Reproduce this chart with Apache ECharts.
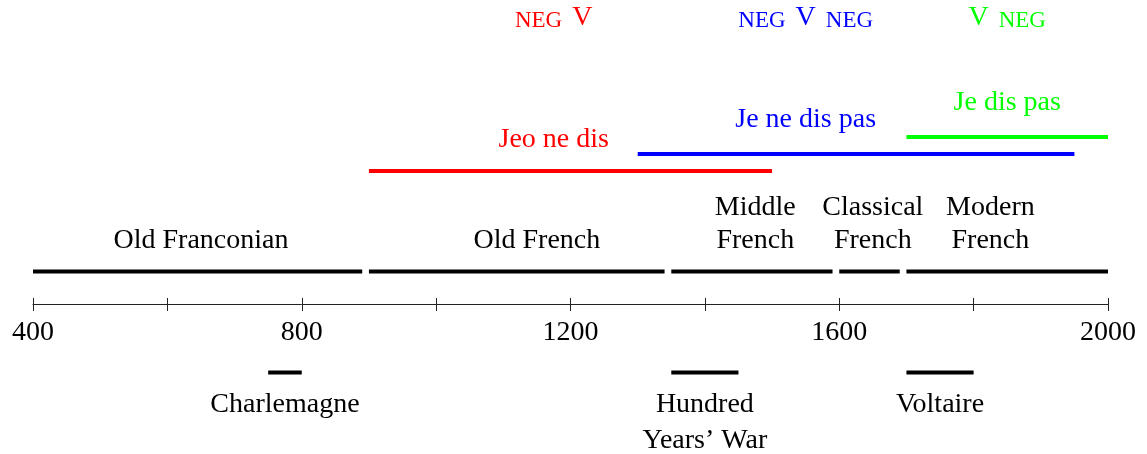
<!DOCTYPE html>
<html>
<head>
<meta charset="utf-8">
<script src="https://cdn.jsdelivr.net/npm/echarts@6/dist/echarts.min.js"></script>
<style>
html,body{margin:0;padding:0;background:#fff;}
#chart{width:1147px;height:454px;}
</style>
</head>
<body>
<div id="chart"></div>
<script>
// ---------- data ----------
const axisMin = 400;
const axisMax = 2000;
const tickStep = 200;
const labelStep = 400;

const periodNames = ['Old Franconian', 'Old French', 'Middle\nFrench', 'Classical\nFrench', 'Modern\nFrench'];
const periodStart = [400, 900, 1350, 1600, 1700];
const periodEnd = [890, 1340, 1590, 1690, 2000];
const periodLabelYear = [650, 1150, 1475, 1650, 1825];

const phraseText = ['Jeo ne dis', 'Je ne dis pas', 'Je dis pas'];
const phraseStart = [900, 1300, 1700];
const phraseEnd = [1500, 1950, 2000];
const phraseLabelYear = [1175, 1550, 1850];
const phrasePattern = [['NEG', 'V'], ['NEG', 'V', 'NEG'], ['V', 'NEG']];

const eventNames = ['Charlemagne', 'Hundred\nYears\u2019 War', 'Voltaire'];
const eventStart = [750, 1350, 1700];
const eventEnd = [800, 1450, 1800];

// ---------- layout / style (heights in px above the time axis) ----------
const FONT = '"Liberation Serif", "Times New Roman", Times, serif';
const phraseColors = ['#ff0000', '#0000ff', '#00ff00'];
const LV = {
  periodBar: 32.5,
  periodLabelBottom: 47,
  phraseLine: [133, 150, 167],
  phraseLabel: [164.5, 184, 201],
  patternLabel: 286,
  eventBar: -68.5,
  eventLabelTop: -83
};

const chart = echarts.init(document.getElementById('chart'), null, {renderer: 'canvas'});

function seg(api, a, b, lvl, color, w) {
  const s = api.coord([a, lvl]);
  const e = api.coord([b, lvl]);
  return {type: 'line', shape: {x1: s[0], y1: s[1], x2: e[0], y2: e[1]},
          style: {stroke: color, lineWidth: w, lineCap: 'butt'}};
}

const option = {
  animation: false,
  backgroundColor: '#ffffff',
  grid: {left: 33, right: 39, top: 0, bottom: 150, containLabel: false, outerBoundsMode: 'none'},
  xAxis: [{
    type: 'value', min: axisMin, max: axisMax, interval: tickStep, position: 'bottom',
    axisLine: {show: true, onZero: false, lineStyle: {color: '#222', width: 1}},
    axisTick: {show: true, inside: false, length: 7, lineStyle: {color: '#222', width: 1}},
    axisLabel: {show: true, margin: 15, color: '#000', fontSize: 28, fontFamily: FONT,
      showMinLabel: true, showMaxLabel: true, hideOverlap: false,
      formatter: v => ((v - axisMin) % labelStep === 0 ? String(v) : '')},
    splitLine: {show: false}
  }, {
    type: 'value', min: axisMin, max: axisMax, interval: tickStep, position: 'bottom', offset: 0,
    axisLine: {show: false, onZero: false},
    axisTick: {show: true, inside: true, length: 6, lineStyle: {color: '#222', width: 1}},
    axisLabel: {show: false},
    splitLine: {show: false}
  }],
  yAxis: {type: 'value', min: 0, max: 304, show: false, splitLine: {show: false}},
  series: [{
    type: 'custom', name: 'periods', clip: false,
    data: periodStart.map((s, i) => [s, periodEnd[i]]),
    encode: {x: [0, 1]},
    renderItem(params, api) {
      const i = params.dataIndex;
      const t = api.coord([periodLabelYear[i], LV.periodLabelBottom]);
      return {type: 'group', children: [
        seg(api, api.value(0), api.value(1), LV.periodBar, '#000', 4),
        {type: 'text', x: t[0], y: t[1], style: {text: periodNames[i], fill: '#000',
          fontSize: 28, fontFamily: FONT, lineHeight: 33, align: 'center', verticalAlign: 'bottom'}}
      ]};
    }
  }, {
    type: 'custom', name: 'phrases', clip: false,
    data: phraseStart.map((s, i) => [s, phraseEnd[i]]),
    encode: {x: [0, 1]},
    renderItem(params, api) {
      const i = params.dataIndex;
      const c = phraseColors[i];
      const t = api.coord([phraseLabelYear[i], LV.phraseLabel[i]]);
      const p = api.coord([phraseLabelYear[i], LV.patternLabel]);
      const rich = phrasePattern[i].map(w => (w === 'NEG' ? '{n|NEG}' : '{v|V}')).join('{sp| }');
      return {type: 'group', children: [
        seg(api, api.value(0), api.value(1), LV.phraseLine[i], c, 4),
        {type: 'text', x: t[0], y: t[1], style: {text: phraseText[i], fill: c,
          fontSize: 28, fontFamily: FONT, align: 'center', verticalAlign: 'middle'}},
        {type: 'text', x: p[0], y: p[1], style: {text: rich, fill: c,
          fontSize: 28, fontFamily: FONT, align: 'center', verticalAlign: 'middle',
          rich: {
            n: {fontSize: 23, lineHeight: 28, fontFamily: FONT, fill: c, verticalAlign: 'bottom'},
            v: {fontSize: 28, lineHeight: 28, fontFamily: FONT, fill: c, verticalAlign: 'bottom'},
            sp: {fontSize: 40, lineHeight: 28, fontFamily: FONT, fill: c, verticalAlign: 'bottom'}
          }}}
      ]};
    }
  }, {
    type: 'custom', name: 'events', clip: false,
    data: eventStart.map((s, i) => [s, eventEnd[i]]),
    encode: {x: [0, 1]},
    renderItem(params, api) {
      const i = params.dataIndex;
      const mid = (api.value(0) + api.value(1)) / 2;
      const t = api.coord([mid, LV.eventLabelTop]);
      return {type: 'group', children: [
        seg(api, api.value(0), api.value(1), LV.eventBar, '#000', 4),
        {type: 'text', x: t[0], y: t[1], style: {text: eventNames[i], fill: '#000',
          fontSize: 28, fontFamily: FONT, lineHeight: 36, align: 'center', verticalAlign: 'top'}}
      ]};
    }
  }]
};
chart.setOption(option);
</script>
</body>
</html>
